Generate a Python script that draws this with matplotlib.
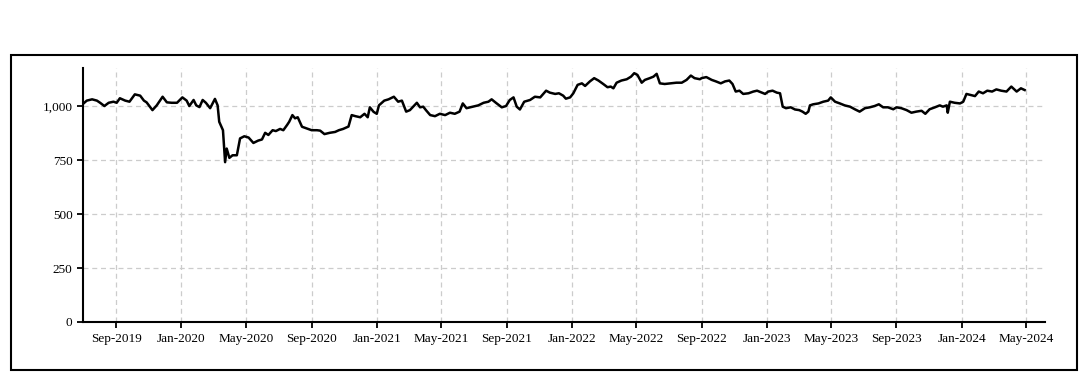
import matplotlib
matplotlib.use("Agg")
import matplotlib.pyplot as plt
import matplotlib.dates as mdates
import matplotlib.ticker as mticker
from matplotlib.patches import Rectangle
import pandas as pd

# values
dates = [
    "2019-07-02", "2019-07-08", "2019-07-18", "2019-07-27", "2019-08-02", "2019-08-10",
    "2019-08-18", "2019-08-27", "2019-09-02", "2019-09-08", "2019-09-18", "2019-09-26",
    "2019-10-06", "2019-10-16", "2019-10-23", "2019-10-28", "2019-11-08", "2019-11-16",
    "2019-11-27", "2019-12-05", "2019-12-14", "2019-12-24", "2020-01-03", "2020-01-11",
    "2020-01-16", "2020-01-24", "2020-01-29", "2020-02-04", "2020-02-10", "2020-02-16",
    "2020-02-24", "2020-03-04", "2020-03-09", "2020-03-12", "2020-03-19", "2020-03-23",
    "2020-03-26", "2020-03-31", "2020-04-06", "2020-04-14", "2020-04-20", "2020-04-28",
    "2020-05-06", "2020-05-15", "2020-05-24", "2020-05-31", "2020-06-06", "2020-06-12",
    "2020-06-20", "2020-06-26", "2020-07-04", "2020-07-10", "2020-07-17", "2020-07-21",
    "2020-07-27", "2020-08-01", "2020-08-06", "2020-08-14", "2020-08-23", "2020-09-01",
    "2020-09-11", "2020-09-17", "2020-09-25", "2020-10-05", "2020-10-15", "2020-10-22",
    "2020-10-30", "2020-11-09", "2020-11-15", "2020-11-22", "2020-12-01", "2020-12-09",
    "2020-12-15", "2020-12-19", "2020-12-26", "2021-01-01", "2021-01-05", "2021-01-15",
    "2021-01-23", "2021-02-02", "2021-02-10", "2021-02-17", "2021-02-25", "2021-03-04",
    "2021-03-10", "2021-03-17", "2021-03-23", "2021-03-29", "2021-04-03", "2021-04-11",
    "2021-04-20", "2021-04-29", "2021-05-09", "2021-05-18", "2021-05-27", "2021-06-05",
    "2021-06-11", "2021-06-18", "2021-06-30", "2021-07-10", "2021-07-20", "2021-07-29",
    "2021-08-04", "2021-08-12", "2021-08-23", "2021-08-31", "2021-09-07", "2021-09-14",
    "2021-09-20", "2021-09-26", "2021-10-04", "2021-10-15", "2021-10-24", "2021-11-03",
    "2021-11-14", "2021-11-21", "2021-12-01", "2021-12-08", "2021-12-16", "2021-12-21",
    "2021-12-29", "2022-01-04", "2022-01-12", "2022-01-20", "2022-01-26", "2022-02-04",
    "2022-02-12", "2022-02-20", "2022-03-01", "2022-03-09", "2022-03-15", "2022-03-20",
    "2022-03-26", "2022-04-04", "2022-04-14", "2022-04-22", "2022-04-28", "2022-05-04",
    "2022-05-12", "2022-05-18", "2022-05-27", "2022-06-03", "2022-06-09", "2022-06-15",
    "2022-06-24", "2022-07-06", "2022-07-16", "2022-07-26", "2022-08-04", "2022-08-12",
    "2022-08-19", "2022-08-29", "2022-09-01", "2022-09-10", "2022-09-20", "2022-09-28",
    "2022-10-07", "2022-10-15", "2022-10-23", "2022-10-29", "2022-11-04", "2022-11-11",
    "2022-11-18", "2022-11-28", "2022-12-07", "2022-12-14", "2022-12-23", "2022-12-29",
    "2023-01-04", "2023-01-12", "2023-01-20", "2023-01-26", "2023-01-31", "2023-02-06",
    "2023-02-15", "2023-02-23", "2023-03-03", "2023-03-09", "2023-03-15", "2023-03-20",
    "2023-03-23", "2023-03-29", "2023-04-08", "2023-04-17", "2023-04-26", "2023-05-01",
    "2023-05-09", "2023-05-18", "2023-05-27", "2023-06-06", "2023-06-15", "2023-06-24",
    "2023-07-04", "2023-07-13", "2023-07-22", "2023-07-30", "2023-08-07", "2023-08-16",
    "2023-08-26", "2023-09-01", "2023-09-10", "2023-09-20", "2023-09-29", "2023-10-08",
    "2023-10-18", "2023-10-25", "2023-11-02", "2023-11-12", "2023-11-21", "2023-11-27",
    "2023-12-04", "2023-12-06", "2023-12-10", "2023-12-19", "2023-12-29", "2024-01-04",
    "2024-01-10", "2024-01-18", "2024-01-26", "2024-02-02", "2024-02-10", "2024-02-18",
    "2024-02-27", "2024-03-06", "2024-03-15", "2024-03-25", "2024-04-03", "2024-04-13",
    "2024-04-21", "2024-04-28",
]
values = [
    1012, 1025, 1031, 1025, 1015, 1000,
    1015, 1020, 1015, 1036, 1025, 1020,
    1054, 1048, 1025, 1017, 981, 1003,
    1043, 1017, 1015, 1015, 1040, 1025,
    1000, 1028, 1003, 995, 1028, 1015,
    990, 1033, 1003, 927, 888, 740,
    803, 760, 772, 772, 850, 860,
    854, 829, 840, 845, 876, 866,
    888, 884, 894, 888, 912, 927,
    958, 943, 948, 904, 896, 888,
    888, 886, 870, 876, 880, 888,
    894, 905, 958, 953, 948, 964,
    948, 994, 973, 964, 1003, 1025,
    1031, 1043, 1020, 1025, 974, 981,
    997, 1015, 994, 997, 981, 958,
    953, 964, 958, 969, 964, 974,
    1012, 990, 997, 1003, 1015, 1020,
    1031, 1015, 994, 1000, 1028, 1040,
    997, 984, 1020, 1028, 1043, 1040,
    1071, 1062, 1056, 1059, 1048, 1034,
    1040, 1059, 1098, 1105, 1093, 1114,
    1129, 1118, 1102, 1087, 1090, 1082,
    1108, 1118, 1124, 1136, 1152, 1144,
    1108, 1121, 1129, 1136, 1149, 1105,
    1102, 1105, 1108, 1108, 1121, 1141,
    1129, 1124, 1129, 1134, 1121, 1114,
    1105, 1114, 1118, 1102, 1067, 1071,
    1056, 1059, 1067, 1071, 1062, 1056,
    1067, 1071, 1062, 1059, 997, 990,
    994, 984, 981, 974, 964, 974,
    1003, 1008, 1012, 1020, 1025, 1040,
    1020, 1012, 1003, 997, 985, 974,
    990, 994, 1000, 1008, 994, 994,
    985, 994, 990, 981, 969, 974,
    978, 964, 985, 994, 1003, 997,
    1003, 969, 1020, 1015, 1012, 1020,
    1056, 1051, 1046, 1067, 1059, 1071,
    1067, 1077, 1071, 1067, 1090, 1067,
    1082, 1074,
]
tick_dates = pd.date_range("2019-09-01", "2024-05-01", freq="4MS")
y_ticks = [0, 250, 500, 750, 1000]

plt.rcParams["font.family"] = ["Liberation Serif", "DejaVu Serif"]
plt.rcParams["font.size"] = 9.5

fig = plt.figure(figsize=(10.91, 3.77), dpi=100)
ax = fig.add_axes([0.0761, 0.1459, 0.8817, 0.6737])

x = pd.to_datetime(dates)
ax.plot(x, values, color="black", linewidth=1.8, zorder=3)

ax.set_xlim(pd.Timestamp("2019-07-01"), pd.Timestamp("2024-06-05"))
ax.set_ylim(0, 1176)
ax.set_xticks(tick_dates)
ax.xaxis.set_major_formatter(mdates.DateFormatter("%b-%Y"))
ax.set_yticks(y_ticks)
ax.yaxis.set_major_formatter(mticker.StrMethodFormatter("{x:,.0f}"))

ax.grid(True, color="#cccccc", linestyle="--", linewidth=0.9, dashes=(4, 3))
ax.set_axisbelow(True)
for side in ("top", "right"):
    ax.spines[side].set_visible(False)
for side in ("left", "bottom"):
    ax.spines[side].set_linewidth(1.5)
ax.tick_params(axis="both", direction="out", length=4, width=1.3, colors="black")
ax.tick_params(axis="x", pad=4)

# frame drawn round the whole chart
fig.patches.append(Rectangle((0.0105, 0.0185), 0.977, 0.836, transform=fig.transFigure,
                             fill=False, edgecolor="black", linewidth=1.5))

fig.savefig("out.png", dpi=100)
